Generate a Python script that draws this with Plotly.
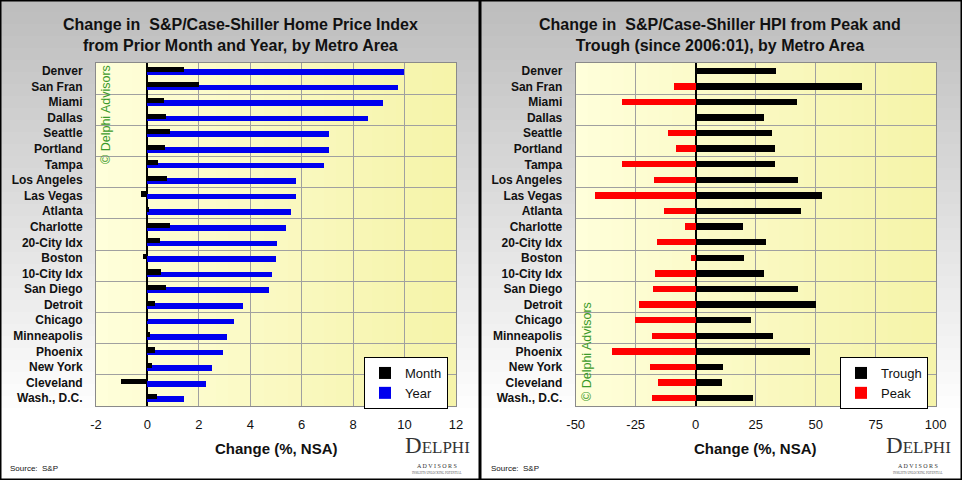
import plotly.graph_objects as go

# ── Data ──────────────────────────────────────────────────────────────────────
cities = [
    "Denver", "San Fran", "Miami", "Dallas", "Seattle", "Portland", "Tampa",
    "Los Angeles", "Las Vegas", "Atlanta", "Charlotte", "20-City Idx", "Boston",
    "10-City Idx", "San Diego", "Detroit", "Chicago", "Minneapolis", "Phoenix",
    "New York", "Cleveland", "Wash., D.C.",
]
month_chg = [1.41, 2.00, 0.65, 0.72, 0.88, 0.68, 0.41, 0.76, -0.25, 0.05, 0.88,
             0.49, -0.17, 0.53, 0.72, 0.30, 0.02, 0.10, 0.30, 0.18, -1.02, 0.37]
year_chg = [9.99, 9.75, 9.17, 8.59, 7.08, 7.08, 6.85, 5.76, 5.76, 5.57, 5.37,
            5.03, 4.99, 4.83, 4.72, 3.71, 3.36, 3.09, 2.93, 2.51, 2.27, 1.42]
trough_chg = [33.5, 69.3, 42.2, 28.5, 31.8, 33.1, 33.1, 42.6, 52.6, 43.9, 19.7,
              29.3, 20.1, 28.5, 42.6, 50.1, 23.1, 32.2, 47.6, 11.4, 11.0, 23.9]
peak_chg = [0.0, -9.0, -30.7, 0.0, -11.5, -8.2, -30.7, -17.4, -41.9, -13.2, -4.4,
            -16.1, -1.9, -16.9, -17.8, -23.6, -25.3, -18.2, -34.9, -19.0, -15.7, -18.2]

left_ticks = [-2, 0, 2, 4, 6, 8, 10, 12]
left_tick_text = ["-2", "0", "2", "4", "6", "8", "10", "12"]
right_ticks = [-50, -25, 0, 25, 50, 75, 100]
right_tick_text = ["-50", "-25", "0", "25", "50", "75", "100"]

FONT = "Liberation Sans, Arial, sans-serif"
W, H = 962, 480
pos = list(range(len(cities)))
band_lines = [i + 1.5 for i in range(0, len(cities) - 2, 2)]

fig = go.Figure()

# left panel: Year under, Month on top
fig.add_trace(go.Bar(x=year_chg, y=pos, orientation="h", name="Year",
                     marker=dict(color="#0000ee", line=dict(width=0)),
                     width=0.36, offset=-0.11, legendrank=2,
                     xaxis="x", yaxis="y", legend="legend"))
fig.add_trace(go.Bar(x=month_chg, y=pos, orientation="h", name="Month",
                     marker=dict(color="#000000", line=dict(width=0)),
                     width=0.33, offset=-0.26, legendrank=1,
                     xaxis="x", yaxis="y", legend="legend"))
# right panel
fig.add_trace(go.Bar(x=trough_chg, y=pos, orientation="h", name="Trough",
                     marker=dict(color="#000000", line=dict(width=0)),
                     width=0.41, offset=-0.21, legendrank=1,
                     xaxis="x2", yaxis="y2", legend="legend2"))
fig.add_trace(go.Bar(x=peak_chg, y=pos, orientation="h", name="Peak",
                     marker=dict(color="#ff0000", line=dict(width=0)),
                     width=0.41, offset=-0.21, legendrank=2,
                     xaxis="x2", yaxis="y2", legend="legend2"))

ydom = [1 - 406 / H, 1 - 63 / H]
xdom_l = [96 / W, 456 / W]
xdom_r = [575.7 / W, 935.7 / W]

def xax(dom, ticks, labels, anchor):
    return dict(domain=dom, range=[ticks[0], ticks[-1]], anchor=anchor,
                tickmode="array", tickvals=ticks, ticktext=labels, automargin=False,
                showgrid=True, gridcolor="#a0a0a0", gridwidth=1,
                zeroline=True, zerolinecolor="#000000", zerolinewidth=1.5,
                showline=True, mirror=True, linecolor="#8a8a8a", linewidth=1,
                ticks="outside", ticklen=6, tickcolor="rgba(0,0,0,0)",
                tickfont=dict(size=13, color="#111111", family=FONT), fixedrange=True)

def yax(anchor):
    return dict(domain=ydom, range=[len(cities) - 0.5, -0.5], anchor=anchor,
                tickmode="array", tickvals=pos, ticktext=cities, automargin=False,
                showgrid=False, zeroline=False,
                showline=True, mirror=True, linecolor="#8a8a8a", linewidth=1,
                ticks="outside", ticklen=10, tickcolor="rgba(0,0,0,0)",
                tickfont=dict(size=12, color="#111111", family=FONT, weight="bold"),
                minor=dict(tickmode="array", tickvals=band_lines, showgrid=True,
                           gridcolor="#a0a0a0", gridwidth=1, ticks=""),
                fixedrange=True)

legend_style = dict(bgcolor="#ffffff", bordercolor="#000000", borderwidth=1,
                    font=dict(size=13, family=FONT, color="#111111"),
                    itemwidth=30, tracegroupgap=0, yanchor="top", xanchor="right",
                    y=1 - 357 / H, traceorder="normal")

fig.update_layout(
    width=W, height=H, autosize=False,
    margin=dict(l=0, r=0, t=0, b=0, pad=0, autoexpand=False),
    paper_bgcolor="#ffffff", plot_bgcolor="rgba(0,0,0,0)",
    barmode="overlay", bargap=0,
    font=dict(family=FONT, color="#111111"),
    xaxis=xax(xdom_l, left_ticks, left_tick_text, "y"),
    yaxis=yax("x"),
    xaxis2=xax(xdom_r, right_ticks, right_tick_text, "y2"),
    yaxis2=yax("x2"),
    legend=dict(legend_style, x=448 / W),
    legend2=dict(legend_style, x=928 / W),
    showlegend=True,
)

shapes = []
# panel background: vertical gray-to-white gradient
n = 40
for i in range(n):
    t = i / (n - 1)
    c = int(190 + (255 - 190) * min(1.0, t * 1.15))
    shapes.append(dict(type="rect", xref="paper", yref="paper", layer="below",
                       x0=0, x1=1, y0=1 - (i + 1) / n, y1=1 - i / n,
                       fillcolor=f"rgb({c},{c},{c})", line=dict(width=0)))
# plot areas: pale yellow, slightly deeper toward the right
m = 30
for ax in ["x", "x2"]:
    yref = "y domain" if ax == "x" else "y2 domain"
    for i in range(m):
        t = i / (m - 1)
        r = int(255 - 9 * t)
        g = int(255 - 11 * t)
        b = int(218 - 48 * t)
        shapes.append(dict(type="rect", xref=f"{ax} domain", yref=yref, layer="below",
                           x0=i / m, x1=(i + 1) / m + 0.002, y0=0, y1=1,
                           fillcolor=f"rgb({r},{g},{b})", line=dict(width=0)))
# panel borders
shapes.append(dict(type="rect", xref="paper", yref="paper", x0=0, x1=1, y0=0, y1=1,
                   line=dict(color="#000000", width=3)))
shapes.append(dict(type="line", xref="paper", yref="paper", x0=480 / W, x1=480 / W,
                   y0=0, y1=1, line=dict(color="#000000", width=3)))
fig.update_layout(shapes=shapes)

ann = []
titles = [
    ("Change in\u00a0 S&P/Case-Shiller Home Price Index<br>from Prior Month and Year, by Metro Area", 240),
    ("Change in\u00a0 S&P/Case-Shiller HPI from Peak and<br>Trough (since 2006:01), by Metro Area", 720),
]
for txt, cx in titles:
    ann.append(dict(text=f"<b>{txt}</b>", x=cx / W, y=1 - 35 / H, xref="paper", yref="paper",
                    xanchor="center", yanchor="middle", showarrow=False,
                    font=dict(size=16, family=FONT, color="#111111")))
for cx in [276, 755.7]:
    ann.append(dict(text="<b>Change (%, NSA)</b>", x=cx / W, y=1 - 448 / H,
                    xref="paper", yref="paper", xanchor="center", yanchor="middle",
                    showarrow=False, font=dict(size=15, family=FONT, color="#111111")))
for ox in [0, 481]:
    ann.append(dict(text="Source:  S&P", x=(ox + 8) / W, y=1 - 468 / H,
                    xref="paper", yref="paper", xanchor="left", yanchor="middle",
                    showarrow=False, font=dict(size=8, family=FONT, color="#111111")))
    # Delphi logo (text only)
    ann.append(dict(text="<span style='font-size:23px'>D</span>ELPHI",
                    x=(ox + 437) / W, y=1 - 460 / H, xref="paper", yref="paper",
                    xanchor="center", yanchor="bottom", showarrow=False,
                    font=dict(size=17, family="Liberation Serif, serif", color="#333333")))
    ann.append(dict(text="A D V I S O R S", x=(ox + 437) / W, y=1 - 460.5 / H,
                    xref="paper", yref="paper", xanchor="center", yanchor="top",
                    showarrow=False,
                    font=dict(size=6, family="Liberation Serif, serif", color="#333333")))
    ann.append(dict(text="INSIGHTS UNLOCKING POTENTIAL", x=(ox + 437) / W, y=1 - 469 / H,
                    xref="paper", yref="paper", xanchor="center", yanchor="top",
                    showarrow=False,
                    font=dict(size=3, family="Liberation Serif, serif", color="#555555")))
# watermarks
for wx, wy in [(106, 115), (587, 352)]:
    ann.append(dict(text="© Delphi Advisors", x=wx / W, y=1 - wy / H,
                    xref="paper", yref="paper", xanchor="center", yanchor="middle",
                    textangle=-90, showarrow=False,
                    font=dict(size=12.5, family=FONT, color="#3c9a2a")))
fig.update_layout(annotations=ann)

fig.write_html("out.html", config={"displayModeBar": False},
               post_script="document.body.style.margin='0';document.body.style.overflow='hidden';")
